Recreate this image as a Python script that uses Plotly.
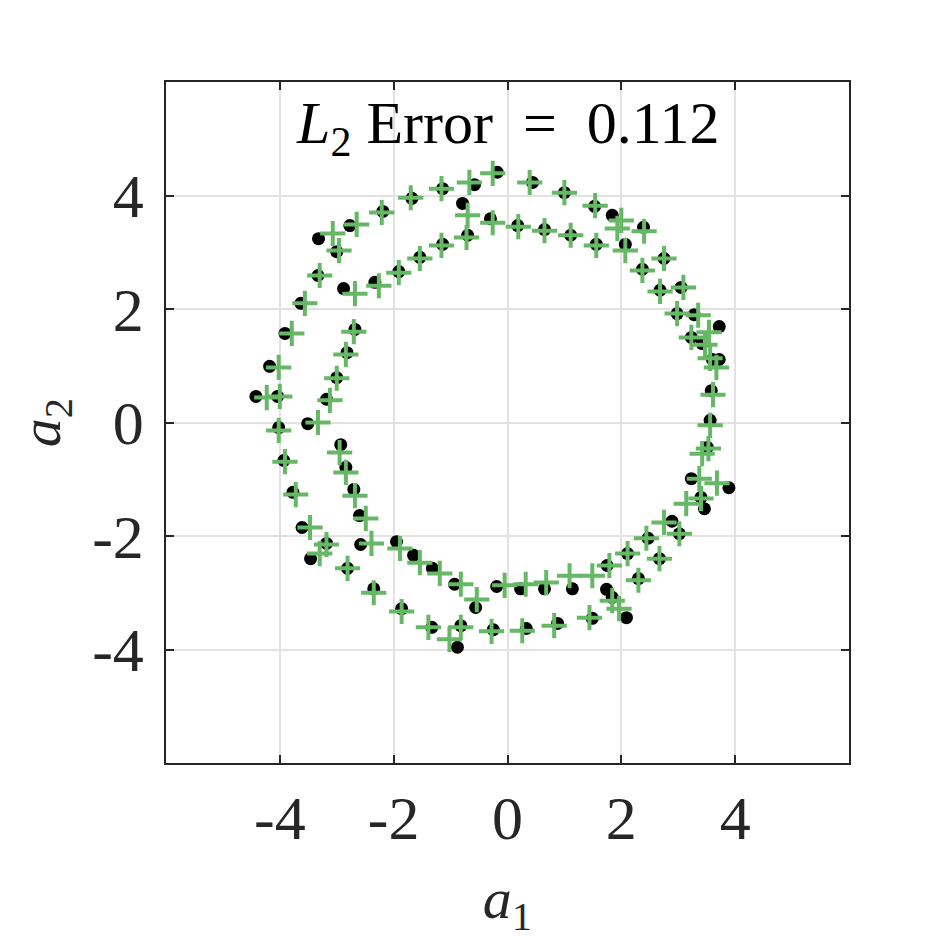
import plotly.graph_objects as go

# true trajectory (black dots)
true_a1 = [-0.18, -0.58, -1.14, -1.68, -2.19, -2.77, -3.32, -3.00, -3.33, -3.63,
           -3.91, -4.18, -4.04, -4.42, -4.02, -3.93, -3.77, -3.61, -3.18, -3.46,
           -2.81, -2.35, -1.86, -1.33, -0.88, -0.82, -0.25, 0.33, 0.88, 1.49,
           2.09, 1.84, 1.74, 2.30, 2.67, 3.02, 3.46, 3.40, 3.89, 3.51,
           3.56, 3.58, 3.72, 3.72, 3.28, 3.05, 2.75, 2.39, 1.84, 1.53,
           1.00, 0.44,
           -0.79, -0.30, 0.18, 0.65, 1.11, 1.56, 2.07, 2.37, 2.68, 2.98,
           3.23, 3.42, 3.60, 3.23, 2.89, 2.47, 2.11, 1.75, 1.14, 0.65,
           0.23, -0.19, -0.56, -0.93, -1.32, -1.65, -1.95, -2.58, -2.60, -2.70,
           -2.84, -2.93, -3.51, -3.18, -3.00, -2.82, -2.68, -2.88, -2.33, -1.91,
           -1.54, -1.14, -0.70]
true_a2 = [4.41, 4.19, 4.12, 3.95, 3.72, 3.47, 3.24, 3.01, 2.59, 2.10,
           1.57, 0.99, 0.46, 0.46, -0.09, -0.67, -1.23, -1.85, -2.13, -2.40,
           -2.57, -2.93, -3.28, -3.61, -3.96, -3.58, -3.65, -3.63, -3.54, -3.45,
           -3.44, -3.08, -2.94, -2.75, -2.40, -1.96, -1.52, -1.32, -1.15, -0.44,
           0.04, 0.56, 1.11, 1.69, 1.90, 2.38, 2.89, 3.44, 3.65, 3.81,
           4.05, 4.23,
           3.86, 3.59, 3.47, 3.40, 3.30, 3.14, 3.14, 2.70, 2.33, 1.92,
           1.50, 1.39, 1.11, -0.99, -1.74, -2.04, -2.31, -2.52, -2.93, -2.93,
           -2.93, -2.89, -3.26, -2.85, -2.57, -2.34, -2.10, -2.15, -1.64, -1.18,
           -0.79, -0.39, -0.02, 0.41, 0.79, 1.23, 1.64, 2.36, 2.47, 2.66,
           2.91, 3.14, 3.30]

# model prediction (green crosses)
pred_a1 = [-0.26, -0.67, -1.16, -1.70, -2.21, -2.65, -3.07, -2.96, -3.30, -3.56,
           -3.79, -4.02, -4.23, -4.00, -4.02, -3.91, -3.72, -3.47, -3.18, -3.30,
           -2.81, -2.35, -1.86, -1.39, -1.02, -0.82, -0.28, 0.26, 0.82, 1.44,
           1.96, 1.84, 1.49, 2.30, 2.67, 3.02, 3.14, 3.40, 3.68, 3.42,
           3.53, 3.56, 3.61, 3.67, 3.56, 3.54, 3.35, 3.09, 2.75, 2.40,
           2.00, 1.93, 1.54, 1.00, 0.39,
           -0.70, -0.26, 0.19, 0.65, 1.11, 1.56, 2.07, 2.37, 2.68, 2.98,
           3.23, 3.47, 3.37, 2.75, 2.44, 2.11, 1.79, 1.09, 0.68, 0.32,
           -0.05, -0.54, -0.82, -1.19, -1.54, -1.89, -2.39, -2.49, -2.68, -2.84,
           -2.95, -3.33, -3.12, -3.00, -2.84, -2.70, -2.68, -2.26, -1.91, -1.54,
           -1.16, -0.72]
pred_a2 = [4.39, 4.23, 4.12, 3.96, 3.70, 3.49, 3.33, 3.03, 2.59, 2.10,
           1.57, 0.97, 0.44, 0.46, -0.14, -0.69, -1.27, -1.85, -2.15, -2.31,
           -2.57, -3.00, -3.33, -3.61, -3.82, -3.61, -3.68, -3.67, -3.58, -3.44,
           -3.28, -3.14, -2.70, -2.78, -2.40, -1.96, -1.43, -1.34, -1.07, -0.55,
           -0.46, -0.05, 0.49, 0.97, 1.13, 1.59, 1.89, 2.38, 2.89, 3.37,
           3.56, 3.42, 3.82, 4.05, 4.23,
           3.65, 3.52, 3.45, 3.38, 3.30, 3.12, 3.03, 2.68, 2.31, 1.92,
           1.50, 1.37, -0.99, -1.76, -2.04, -2.31, -2.52, -2.70, -2.82, -2.85,
           -2.87, -3.12, -2.85, -2.66, -2.47, -2.22, -2.13, -1.69, -1.29, -0.88,
           -0.53, 0.00, 0.39, 0.78, 1.20, 1.60, 2.27, 2.41, 2.64, 2.89,
           3.12, 3.26]

ticks = [-4, -2, 0, 2, 4]
tick_text = ["-4", "-2", "0", "2", "4"]
l2_error = 0.112

FONT = "Liberation Serif"
GREEN = "rgb(102,184,102)"
DARK = "rgb(38,38,38)"

fig = go.Figure()

fig.add_trace(go.Scatter(
    x=true_a1, y=true_a2, mode="markers",
    marker=dict(symbol="circle", size=13, color="black"),
    name="True", showlegend=False
))

fig.add_trace(go.Scatter(
    x=pred_a1, y=pred_a2, mode="markers",
    marker=dict(symbol="cross-thin", size=18, color=GREEN,
                line=dict(color=GREEN, width=4)),
    name="Predicted", showlegend=False
))

axis_style = dict(
    range=[-6, 6],
    tickvals=ticks,
    ticktext=tick_text,
    showgrid=True,
    gridcolor="rgb(226,226,226)",
    gridwidth=1.5,
    zeroline=False,
    showline=True,
    linecolor=DARK,
    linewidth=1.5,
    mirror="ticks",
    ticks="inside",
    ticklen=8,
    tickwidth=1.5,
    tickcolor=DARK,
    tickfont=dict(family=FONT, size=62, color=DARK),
)

fig.update_xaxes(**axis_style, ticklabelstandoff=0,
                 title=dict(text="<i>a</i><sub>1</sub>",
                            font=dict(family=FONT, size=58, color=DARK),
                            standoff=26))
fig.update_yaxes(**axis_style, ticklabelstandoff=8,
                 title=dict(text="<i>a</i><sub>2</sub>",
                            font=dict(family=FONT, size=58, color=DARK),
                            standoff=20))

fig.add_annotation(
    text=f"<i>L</i><sub>2</sub>&nbsp;Error&nbsp;&nbsp;=&nbsp;&nbsp;{l2_error}",
    xref="paper", yref="paper", x=0.5, y=0.933,
    xanchor="center", yanchor="middle", showarrow=False,
    font=dict(family=FONT, size=60, color="black")
)

fig.update_layout(
    width=938, height=938,
    margin=dict(l=158, r=97, t=74, b=183),
    plot_bgcolor="white",
    paper_bgcolor="white",
)

fig.write_html("out.html")
